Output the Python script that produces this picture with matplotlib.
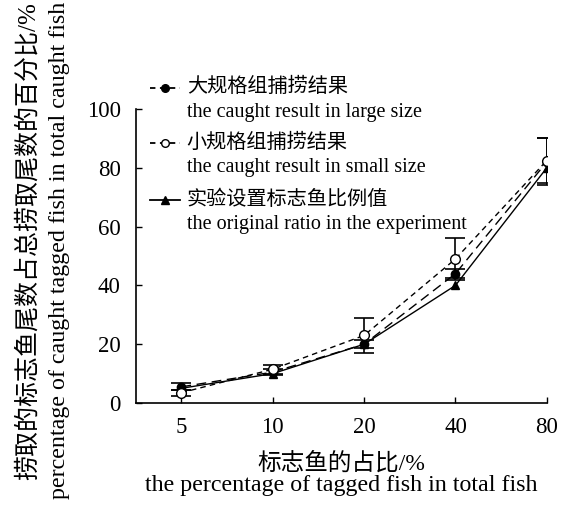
import matplotlib
matplotlib.use('Agg')
import matplotlib.pyplot as plt
from matplotlib.lines import Line2D

plt.rcParams['font.family'] = ['Liberation Serif', 'Noto Sans CJK SC']

categories = ['5', '10', '20', '40', '80']
large_vals = [5.5, 10.5, 20, 44, 82]
large_err = [1.2, 1.0, 1.3, 1.5, 8]
small_vals = [3.5, 11.5, 23, 49, 82.5]
small_err = [1.0, 1.5, 6, 7, 7.5]
orig_vals = [5, 10, 20, 40, 80]

labels_cn = ['大规格组捕捞结果', '小规格组捕捞结果', '实验设置标志鱼比例值']
labels_en = ['the caught result in large size', 'the caught result in small size',
             'the original ratio in the experiment']

x = list(range(len(categories)))

fig = plt.figure(figsize=(5.66, 5.05), dpi=100)
ax = fig.add_axes([0.240, 0.202, 0.726, 0.582])

ax.errorbar(x, large_vals, yerr=large_err, color='black', linestyle=(0, (7, 4)),
            linewidth=1, marker='o', markersize=6, markerfacecolor='black',
            capsize=7, elinewidth=1.2, capthick=1.2)
ax.errorbar(x, small_vals, yerr=small_err, color='black', linestyle=(0, (4, 3)),
            linewidth=1, marker='o', markersize=7, markerfacecolor='white',
            capsize=7, elinewidth=1.2, capthick=1.2)
ax.plot(x, orig_vals, color='black', linestyle='-', linewidth=1,
        marker='^', markersize=6, markerfacecolor='black')

ax.set_xlim(-0.5, 4)
ax.set_ylim(0, 100)
ax.set_yticks([0, 20, 40, 60, 80, 100])
ax.set_xticks(x)
ax.set_xticklabels(categories)
ax.tick_params(direction='in', labelsize=16.5, length=4.5, width=1)
ax.tick_params(axis='x', pad=10)
ax.tick_params(axis='y', pad=11)
ax.spines['top'].set_visible(False)
ax.spines['right'].set_visible(False)
for s in ['left', 'bottom']:
    ax.spines[s].set_linewidth(1.2)

# y labels (Chinese and English)
fig.text(0.050, 0.522, '捞取的标志鱼尾数占总捞取尾数的百分比/%', rotation=90,
         ha='center', va='center', fontsize=18)
fig.text(0.106, 0.505, 'percentage of caught tagged fish in total caught fish',
         rotation=90, ha='center', va='center', fontsize=17.3)
# x labels
fig.text(0.603, 0.083, '标志鱼的占比/%', ha='center', va='center', fontsize=17)
fig.text(0.603, 0.038, 'the percentage of tagged fish in total fish',
         ha='center', va='center', fontsize=17.3)

# legend drawn by hand: handle on the Chinese line, English line below
handle_styles = [((0, (3, 2.5)), 'o', 'black'),
                 ((0, (3, 2.5)), 'o', 'white'),
                 ('-', '^', 'black')]
rows_y = [0.826, 0.717, 0.604]
for yy, (ls, mk, fc), cn, en in zip(rows_y, handle_styles, labels_cn, labels_en):
    fig.add_artist(Line2D([0.265, 0.318], [yy, yy], color='black', linewidth=1.3,
                          linestyle=ls))
    fig.add_artist(Line2D([0.2915], [yy], color='black', marker=mk,
                          markerfacecolor=fc, markersize=5.5))
    fig.text(0.330, yy, cn, ha='left', va='center', fontsize=14.5)
    fig.text(0.330, yy - 0.048, en, ha='left', va='center', fontsize=14.5)

fig.savefig('out.png', dpi=100)
